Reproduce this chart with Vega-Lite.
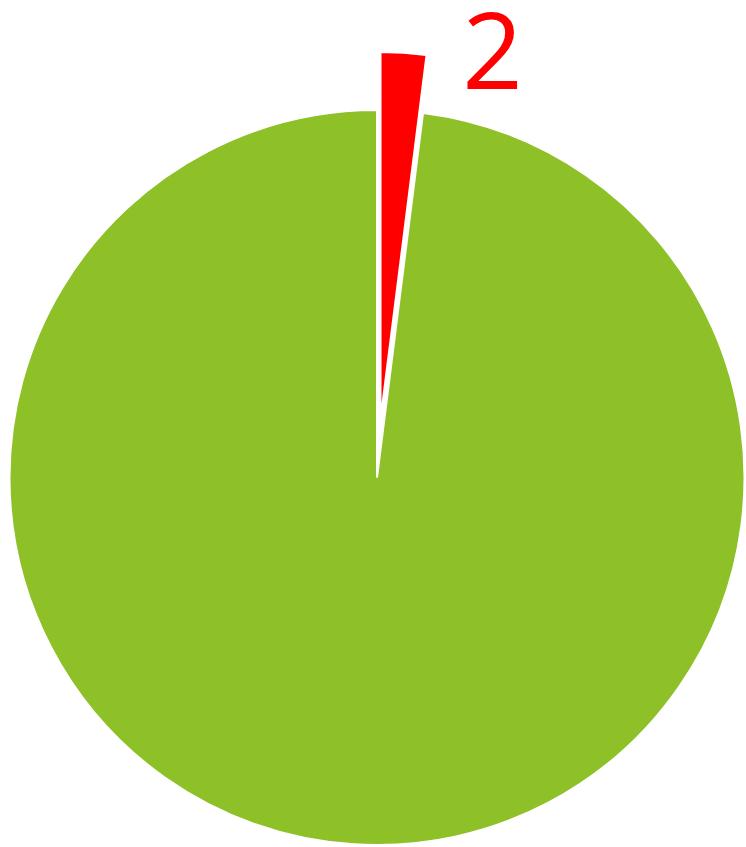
{
  "$schema": "https://vega.github.io/schema/vega-lite/v6.json",
  "width": 736,
  "height": 735,
  "autosize": {"type": "none"},
  "padding": {"left": 9, "top": 110, "right": 1, "bottom": 2},
  "background": "white",
  "view": {"stroke": null},
  "data": {
    "values": [
      {"category": "B", "value": 2, "rank": 1},
      {"category": "A", "value": 98, "rank": 2}
    ]
  },
  "encoding": {
    "theta": {"field": "value", "type": "quantitative", "stack": true},
    "order": {"field": "rank", "type": "quantitative"},
    "color": {
      "field": "category",
      "type": "nominal",
      "scale": {"domain": ["B", "A"], "range": ["#FF0000", "#8EC028"]},
      "legend": null
    }
  },
  "layer": [
    {
      "mark": {"type": "arc", "stroke": "white", "strokeWidth": 2},
      "encoding": {
        "opacity": {"condition": {"test": "datum.category === 'B'", "value": 0}, "value": 1}
      }
    },
    {
      "mark": {"type": "arc", "stroke": "white", "strokeWidth": 2, "xOffset": 3.5, "yOffset": -58},
      "encoding": {
        "opacity": {"condition": {"test": "datum.category === 'B'", "value": 1}, "value": 0}
      }
    },
    {
      "transform": [{"filter": "datum.category === 'B'"}],
      "mark": {"type": "text", "radius": 389, "dx": 91, "font": "Open Sans", "fontSize": 106, "fontWeight": "normal", "baseline": "alphabetic", "align": "center"},
      "encoding": {
        "text": {"field": "value", "type": "quantitative"},
        "color": {"value": "#FF0000"}
      }
    }
  ]
}
